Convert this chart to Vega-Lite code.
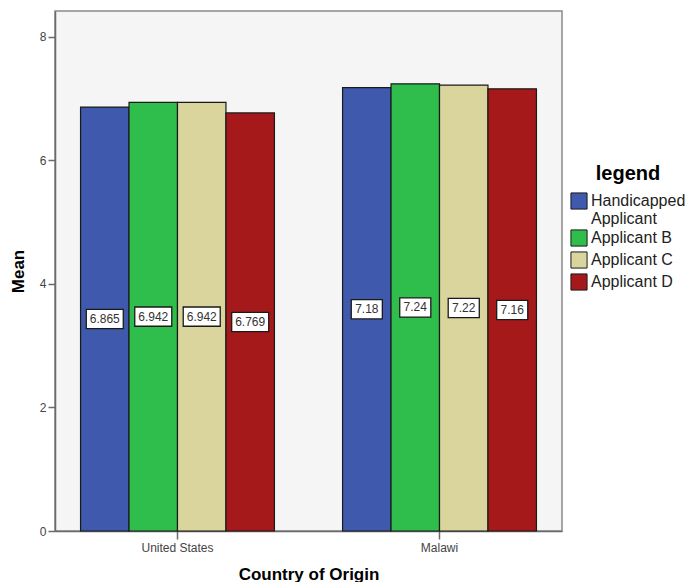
{
  "$schema": "https://vega.github.io/schema/vega-lite/v6.json",
  "width": 507,
  "height": 520,
  "padding": {"left": 9, "top": 11, "right": 0, "bottom": 0},
  "background": "white",
  "data": {
    "values": [
      {"country": "United States", "applicant": "Handicapped Applicant", "mean": 6.865, "label": "6.865"},
      {"country": "United States", "applicant": "Applicant B", "mean": 6.942, "label": "6.942"},
      {"country": "United States", "applicant": "Applicant C", "mean": 6.942, "label": "6.942"},
      {"country": "United States", "applicant": "Applicant D", "mean": 6.769, "label": "6.769"},
      {"country": "Malawi", "applicant": "Handicapped Applicant", "mean": 7.18, "label": "7.18"},
      {"country": "Malawi", "applicant": "Applicant B", "mean": 7.24, "label": "7.24"},
      {"country": "Malawi", "applicant": "Applicant C", "mean": 7.22, "label": "7.22"},
      {"country": "Malawi", "applicant": "Applicant D", "mean": 7.16, "label": "7.16"}
    ]
  },
  "encoding": {
    "x": {
      "field": "country",
      "type": "nominal",
      "sort": ["United States", "Malawi"],
      "scale": {"paddingInner": 0.26, "paddingOuter": 0.0975},
      "axis": {
        "title": "Country of Origin",
        "labelAngle": 0,
        "tickSize": 8,
        "labelPadding": 3,
        "titlePadding": 13
      }
    },
    "xOffset": {
      "field": "applicant",
      "type": "nominal",
      "sort": ["Handicapped Applicant", "Applicant B", "Applicant C", "Applicant D"],
      "scale": {"paddingInner": 0, "paddingOuter": 0}
    }
  },
  "layer": [
    {
      "mark": {"type": "bar", "stroke": "#1a1a1a", "strokeWidth": 1.2},
      "encoding": {
        "y": {
          "field": "mean",
          "type": "quantitative",
          "scale": {"domain": [0, 8.42], "nice": false},
          "axis": {
            "title": "Mean",
            "values": [0, 2, 4, 6, 8],
            "tickSize": 7,
            "labelPadding": 2,
            "titlePadding": 12,
            "grid": false
          }
        },
        "color": {
          "field": "applicant",
          "type": "nominal",
          "sort": ["Handicapped Applicant", "Applicant B", "Applicant C", "Applicant D"],
          "scale": {
            "domain": ["Handicapped Applicant", "Applicant B", "Applicant C", "Applicant D"],
            "range": ["#3f59ad", "#2fbe4b", "#d9d59d", "#a6191a"]
          },
          "legend": {
            "title": "legend",
            "orient": "none",
            "legendX": 515,
            "legendY": 153,
            "padding": 0,
            "titleAnchor": "middle",
            "titleFontSize": 20,
            "titleFontWeight": "bold",
            "titleColor": "#000000",
            "titlePadding": 8,
            "symbolType": "square",
            "symbolSize": 260,
            "symbolStrokeColor": "#1a1a1a",
            "symbolStrokeWidth": 1,
            "symbolOpacity": 1,
            "labelFontSize": 16,
            "labelColor": "#222222",
            "labelOffset": 3,
            "labelLimit": 200,
            "rowPadding": 0,
            "labelExpr": "datum.label == 'Handicapped Applicant' ? ['Handicapped', 'Applicant'] : datum.label"
          }
        }
      }
    },
    {
      "mark": {
        "type": "point",
        "filled": true,
        "fill": "white",
        "stroke": "#1a1a1a",
        "strokeWidth": 1.3,
        "opacity": 1
      },
      "encoding": {
        "y": {
          "field": "mean",
          "type": "quantitative",
          "scale": {"domain": [0, 16.84], "nice": false},
          "axis": null
        },
        "shape": {
          "condition": {"test": "datum.country == 'Malawi'", "value": "M-0.84,-0.52H0.84V0.52H-0.84Z"},
          "value": "M-1,-0.52H1V0.52H-1Z"
        },
        "size": {"value": 1369}
      }
    },
    {
      "mark": {
        "type": "text",
        "fontSize": 12,
        "color": "#333333",
        "baseline": "middle",
        "align": "center"
      },
      "encoding": {
        "y": {
          "field": "mean",
          "type": "quantitative",
          "scale": {"domain": [0, 16.84], "nice": false},
          "axis": null
        },
        "text": {"field": "label", "type": "nominal"}
      }
    }
  ],
  "resolve": {"scale": {"y": "independent"}},
  "config": {
    "font": "Liberation Sans",
    "view": {"stroke": "#8a8a8a", "strokeWidth": 1.5, "fill": "#f5f5f5"},
    "axis": {
      "domainColor": "#6a6a6a",
      "domainWidth": 1.5,
      "tickColor": "#6a6a6a",
      "tickWidth": 1.5,
      "labelFontSize": 12,
      "labelColor": "#444444",
      "titleFontSize": 17,
      "titleFontWeight": "bold",
      "titleColor": "#000000"
    }
  }
}
